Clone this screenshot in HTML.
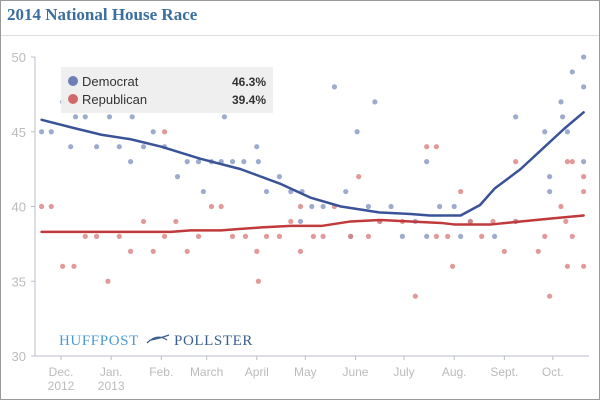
<!DOCTYPE html>
<html><head><meta charset="utf-8"><style>
body{margin:0;background:#fff}
#wrap{position:relative;width:598px;height:398px;border:1px solid #999;overflow:hidden;font-family:"Liberation Sans",sans-serif}
#title{position:absolute;left:6px;top:4px;font:bold 17px "Liberation Serif",serif;color:#3a6e9e}
#sep{position:absolute;left:0;top:34px;width:598px;height:1px;background:#ddd}
</style></head><body>
<div id="wrap">
<div id="title">2014 National House Race</div>
<div id="sep"></div>
<svg id="c" width="598" height="398" style="position:absolute;left:0;top:0"></svg>
</div>
<script>
const yTicks=[30,35,40,45,50];
const monthLabels=["Dec.","Jan.","Feb.","March","April","May","June","July","Aug.","Sept.","Oct."];
const monthSub=["2012","2013","","","","","","","","",""];
const monthDays=[0,31,62,90,121,151,182,212,243,274,304];
const demDays=[-12,-6,1,6,9,15,22,30,36,43,44,51,57,64,72,78,85,88,93,99,101,106,113,121,122,127,135,142,148,149,155,162,169,176,179,183,190,194,197,204,211,219,226,226,234,243,247,253,268,281,281,299,302,302,309,310,313,316,323,323,323];
const demVals=[45,45,47,44,46,46,44,46,44,43,46,44,45,44,42,43,43,41,43,43,46,43,43,44,43,41,42,41,39,41,40,40,48,41,38,45,40,47,39,40,38,39,43,38,40,40,38,39,38,46,39,45,42,41,47,46,45,49,50,48,43];
const repDays=[-12,-6,1,8,15,22,29,36,43,51,57,64,64,71,78,85,93,99,106,114,121,122,127,135,142,148,148,156,162,169,179,184,190,197,211,219,226,232,232,239,242,247,253,260,267,274,281,281,295,299,302,309,312,313,316,313,316,323,323,323];
const repVals=[40,40,36,36,38,38,35,38,37,39,37,38,45,39,37,38,40,40,38,38,37,35,38,38,39,40,37,38,38,40,38,42,38,39,39,34,44,44,38,38,36,41,39,38,39,37,43,39,37,38,34,40,39,43,43,36,38,42,41,36];
const demTrendDays=[-12,6,25,43,62,86,111,136,154,173,197,216,228,247,259,268,284,299,311,323];
const demTrendVals=[45.8,45.3,44.8,44.5,44.0,43.2,42.5,41.5,40.6,40.0,39.6,39.5,39.4,39.4,40.1,41.2,42.5,44.0,45.2,46.3];
const repTrendDays=[-12,68,80,99,111,124,142,161,179,197,216,235,243,266,284,303,323];
const repTrendVals=[38.3,38.3,38.4,38.4,38.5,38.6,38.7,38.7,39.0,39.1,39.0,38.9,38.8,38.8,39.0,39.2,39.4];
const svg=document.getElementById('c');const NS='http://www.w3.org/2000/svg';
const X=d=>60+d*1.618, Y=v=>355-(v-30)*14.95;
function mk(t,a){const e=document.createElementNS(NS,t);for(const k in a)e.setAttribute(k,a[k]);svg.appendChild(e);return e;}
let e=mk('line',{x1:34,y1:56,x2:34,y2:355,stroke:'#b8bec8'});

e=mk('line',{x1:34,y1:355,x2:588,y2:355,stroke:'#b8bec8'});

yTicks.forEach(v=>{mk('line',{x1:30,x2:34,y1:Y(v),y2:Y(v),stroke:'#b8bec8'});
const t=mk('text',{x:25,y:Y(v)+5,'text-anchor':'end','font-size':13,fill:'#bbb'});t.textContent=v;
});
monthDays.forEach((d,i)=>{mk('line',{x1:X(d),x2:X(d),y1:355,y2:359,stroke:'#b8bec8'});
const t=mk('text',{x:X(d),y:375,'text-anchor':'middle','font-size':12,fill:'#bbb'});t.textContent=monthLabels[i];

if(monthSub[i]){const s=mk('text',{x:X(d),y:389,'text-anchor':'middle','font-size':12,fill:'#bbb'});s.textContent=monthSub[i];
}});
const lg=mk('text',{x:58,y:344,'font-size':15,'letter-spacing':0.6,'font-family':'Liberation Serif,serif',fill:'#4a9ad4'});lg.textContent='HUFFPOST';

mk('path',{d:'M146 342 Q156 332 166 339 M150 339 Q160 337 168 334',stroke:'#3a5f8f',fill:'none','stroke-width':1.3});
const lg2=mk('text',{x:173,y:344,'font-size':15,'letter-spacing':0.6,'font-family':'Liberation Serif,serif',fill:'#3a5f8f'});lg2.textContent='POLLSTER';

demDays.forEach((d,i)=>{const c=mk('circle',{cx:X(d),cy:Y(demVals[i]),r:2.6,fill:'#8c9cc6','fill-opacity':0.85});
});
repDays.forEach((d,i)=>{const c=mk('circle',{cx:X(d),cy:Y(repVals[i]),r:2.6,fill:'#d98080','fill-opacity':0.8});
});
let p=mk('polyline',{points:demTrendDays.map((d,i)=>X(d)+','+Y(demTrendVals[i])).join(' '),fill:'none',stroke:'#3a5398','stroke-width':2.5,'stroke-linejoin':'round','stroke-linecap':'round'});

p=mk('polyline',{points:repTrendDays.map((d,i)=>X(d)+','+Y(repTrendVals[i])).join(' '),fill:'none',stroke:'#c0393b','stroke-width':2.5,'stroke-linejoin':'round','stroke-linecap':'round'});

const lb=mk('rect',{x:60,y:66,width:212,height:46,fill:'#eeeeee','fill-opacity':0.95});

[['Democrat','46.3%','#6d7fb5',80],['Republican','39.4%','#d06a6a',98]].forEach(r=>{
const c=mk('circle',{cx:72,cy:r[3],r:5,fill:r[2]});
const t=mk('text',{x:81,y:r[3]+5,'font-size':13,fill:'#333'});t.textContent=r[0];
const v=mk('text',{x:265,y:r[3]+5,'font-size':12,'font-weight':'bold','text-anchor':'end',fill:'#333'});v.textContent=r[1];});
</script>
</body></html>
